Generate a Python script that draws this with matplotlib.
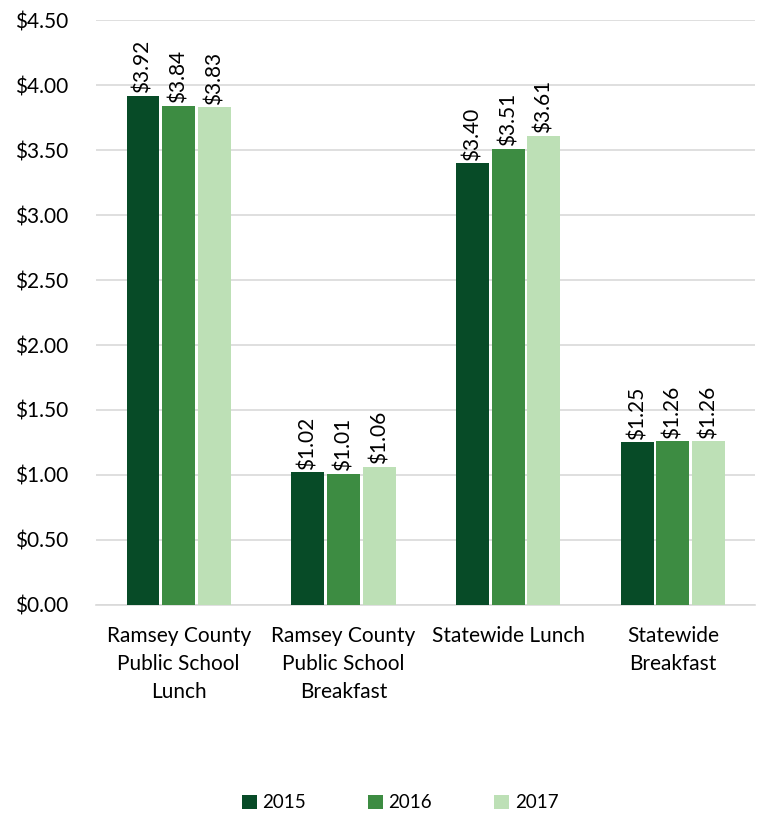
import numpy as np
from matplotlib import pyplot as plt
from matplotlib import ticker

categories = ["Ramsey County\nPublic School\nLunch",
              "Ramsey County\nPublic School\nBreakfast",
              "Statewide Lunch",
              "Statewide\nBreakfast"]
years = ["2015", "2016", "2017"]
values_2015 = [3.92, 1.02, 3.40, 1.25]
values_2016 = [3.84, 1.01, 3.51, 1.26]
values_2017 = [3.83, 1.06, 3.61, 1.26]
colors = ['#074b27', '#3d8c42', '#bde0b6']

plt.rcParams['font.family'] = ['Lato', 'DejaVu Sans']

fig = plt.figure(figsize=(7.59, 8.15), dpi=100)
ax = fig.add_axes([0.127, 0.258, 0.868, 0.717])

x = np.arange(len(categories))
width = 0.2
step = 0.217
series = [values_2015, values_2016, values_2017]
for i, vals in enumerate(series):
    pos = x + (i - 1) * step
    ax.bar(pos, vals, width=width, color=colors[i], label=years[i], zorder=3)
    for p, v in zip(pos, vals):
        ax.text(p, v + 0.02, "${:.2f}".format(v), rotation=90, ha='center', va='bottom',
                fontsize=15, color='#000000')

ax.set_xlim(-0.5, len(categories) - 0.5)
ax.set_ylim(0, 4.5)
ax.yaxis.set_major_locator(ticker.MultipleLocator(0.5))
ax.yaxis.set_major_formatter(ticker.FuncFormatter(lambda v, p: "${:.2f}".format(v)))
ax.set_xticks(x)
ax.set_xticklabels(categories, fontsize=15, linespacing=1.5, va='top')
ax.tick_params(axis='both', length=0, labelsize=15)
ax.tick_params(axis='x', pad=15)
ax.tick_params(axis='y', pad=20)
ax.yaxis.grid(True, color='#d9d9d9', linewidth=1.2, zorder=0)
for s in ['top', 'right', 'left']:
    ax.spines[s].set_visible(False)
ax.spines['bottom'].set_color('#d9d9d9')
ax.spines['bottom'].set_linewidth(1.2)

fig.legend(loc='center', bbox_to_anchor=(0.527, 0.015), ncol=3, frameon=False,
           fontsize=13.5, handlelength=0.8, handleheight=0.8, columnspacing=3.3,
           handletextpad=0.3)

plt.savefig("out.png", dpi=100)
